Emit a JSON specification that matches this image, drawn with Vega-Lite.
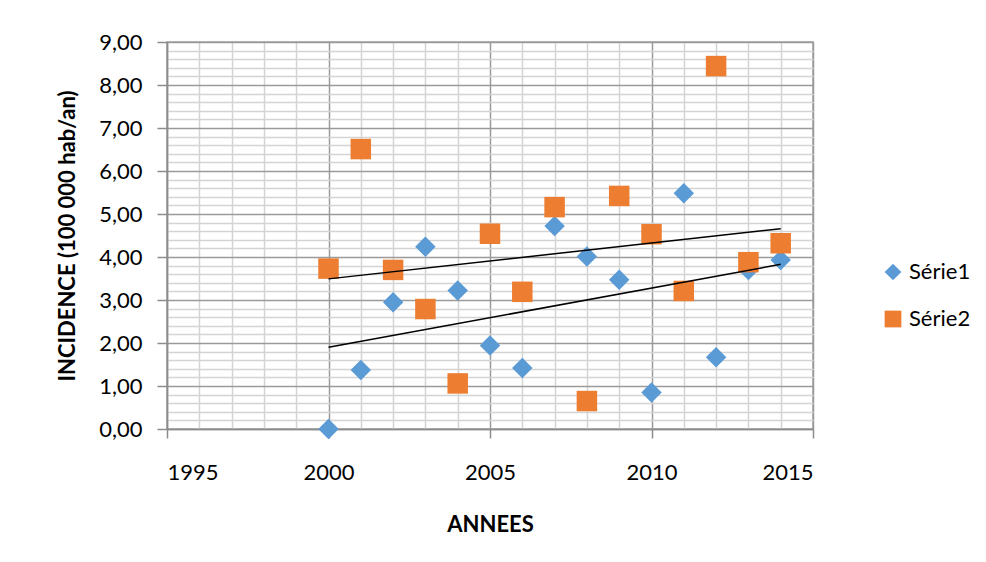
{
  "$schema": "https://vega.github.io/schema/vega-lite/v6.json",
  "width": 646,
  "height": 387,
  "autosize": "none",
  "padding": {"left": 167, "top": 42, "right": 173, "bottom": 133},
  "background": "white",
  "config": {
    "font": "Lato",
    "locale": {"number": {"decimal": ",", "thousands": " ", "grouping": [3], "currency": ["", " €"]}},
    "view": {"stroke": "#a0a0a0", "strokeWidth": 1.5}
  },
  "datasets": {
    "pts": [
      {"year": 2000, "v": 0.0, "serie": "Série1"},
      {"year": 2001, "v": 1.37, "serie": "Série1"},
      {"year": 2002, "v": 2.95, "serie": "Série1"},
      {"year": 2003, "v": 4.24, "serie": "Série1"},
      {"year": 2004, "v": 3.22, "serie": "Série1"},
      {"year": 2005, "v": 1.94, "serie": "Série1"},
      {"year": 2006, "v": 1.42, "serie": "Série1"},
      {"year": 2007, "v": 4.72, "serie": "Série1"},
      {"year": 2008, "v": 4.01, "serie": "Série1"},
      {"year": 2009, "v": 3.47, "serie": "Série1"},
      {"year": 2010, "v": 0.85, "serie": "Série1"},
      {"year": 2011, "v": 5.48, "serie": "Série1"},
      {"year": 2012, "v": 1.67, "serie": "Série1"},
      {"year": 2013, "v": 3.70, "serie": "Série1"},
      {"year": 2014, "v": 3.93, "serie": "Série1"},
      {"year": 2000, "v": 3.73, "serie": "Série2"},
      {"year": 2001, "v": 6.51, "serie": "Série2"},
      {"year": 2002, "v": 3.70, "serie": "Série2"},
      {"year": 2003, "v": 2.79, "serie": "Série2"},
      {"year": 2004, "v": 1.06, "serie": "Série2"},
      {"year": 2005, "v": 4.54, "serie": "Série2"},
      {"year": 2006, "v": 3.19, "serie": "Série2"},
      {"year": 2007, "v": 5.16, "serie": "Série2"},
      {"year": 2008, "v": 0.65, "serie": "Série2"},
      {"year": 2009, "v": 5.42, "serie": "Série2"},
      {"year": 2010, "v": 4.53, "serie": "Série2"},
      {"year": 2011, "v": 3.21, "serie": "Série2"},
      {"year": 2012, "v": 8.44, "serie": "Série2"},
      {"year": 2013, "v": 3.88, "serie": "Série2"},
      {"year": 2014, "v": 4.32, "serie": "Série2"}
    ]
  },
  "data": {"name": "pts"},
  "layer": [
    {
      "mark": {"type": "point", "opacity": 0},
      "encoding": {
        "x": {
          "field": "year", "type": "quantitative",
          "scale": {"domain": [1995, 2015], "nice": false, "zero": false},
          "axis": {
            "orient": "top", "values": [1996,1997,1998,1999,2001,2002,2003,2004,2006,2007,2008,2009,2011,2012,2013,2014],
            "labels": false, "ticks": false, "domain": false, "title": null,
            "grid": true, "gridColor": "#d4d4d4", "gridWidth": 1.5, "gridOpacity": 1
          }
        },
        "y": {
          "field": "v", "type": "quantitative",
          "scale": {"domain": [0, 9], "nice": false},
          "axis": {
            "orient": "right",
            "values": [0.2,0.4,0.6,0.8,1.2,1.4,1.6,1.8,2.2,2.4,2.6,2.8,3.2,3.4,3.6,3.8,4.2,4.4,4.6,4.8,5.2,5.4,5.6,5.8,6.2,6.4,6.6,6.8,7.2,7.4,7.6,7.8,8.2,8.4,8.6,8.8],
            "labels": false, "ticks": false, "domain": false, "title": null,
            "grid": true, "gridColor": "#d4d4d4", "gridWidth": 1.5, "gridOpacity": 1
          }
        }
      }
    },
    {
      "mark": {"type": "point", "filled": true, "opacity": 1, "size": 420},
      "encoding": {
        "x": {
          "field": "year", "type": "quantitative",
          "axis": {
            "orient": "bottom", "values": [1995, 2000, 2005, 2010, 2015], "format": "d",
            "title": "ANNEES", "titleFontSize": 22, "titleFontWeight": "bold", "titleColor": "#000",
            "titlePadding": 31,
            "labelFontSize": 22, "labelColor": "#000", "labelPadding": 24,
            "tickSize": 9, "tickColor": "#8c8c8c", "tickWidth": 1.5,
            "domainColor": "#8c8c8c", "domainWidth": 1.5,
            "grid": true, "gridColor": "#9a9a9a", "gridWidth": 1.5, "gridOpacity": 1
          }
        },
        "y": {
          "field": "v", "type": "quantitative",
          "axis": {
            "orient": "left", "values": [0,1,2,3,4,5,6,7,8,9], "format": ".2f",
            "title": "INCIDENCE (100 000 hab/an)", "titleFontSize": 22, "titleFontWeight": "bold", "titleColor": "#000",
            "titlePadding": 19,
            "labelFontSize": 22, "labelColor": "#000", "labelPadding": 15,
            "tickSize": 10, "tickColor": "#8c8c8c", "tickWidth": 1.5,
            "domainColor": "#8c8c8c", "domainWidth": 1.5,
            "grid": true, "gridColor": "#9a9a9a", "gridWidth": 1.5, "gridOpacity": 1
          }
        },
        "color": {
          "field": "serie", "type": "nominal",
          "scale": {"domain": ["Série1", "Série2"], "range": ["#5B9BD5", "#ED7D31"]},
          "legend": {
            "title": null, "orient": "none", "legendX": 715, "legendY": 219,
            "labelFontSize": 22, "labelColor": "#000", "symbolSize": 280,
            "rowPadding": 25, "labelOffset": 5, "symbolStrokeWidth": 0, "symbolOpacity": 1
          }
        },
        "shape": {
          "field": "serie", "type": "nominal",
          "scale": {"domain": ["Série1", "Série2"], "range": ["diamond", "square"]}
        }
      }
    },
    {
      "transform": [{"regression": "v", "on": "year", "groupby": ["serie"]}],
      "mark": {"type": "line", "color": "#000", "strokeWidth": 1.5},
      "encoding": {
        "x": {"field": "year", "type": "quantitative", "axis": null},
        "y": {"field": "v", "type": "quantitative", "axis": null},
        "detail": {"field": "serie", "type": "nominal"}
      }
    }
  ]
}
